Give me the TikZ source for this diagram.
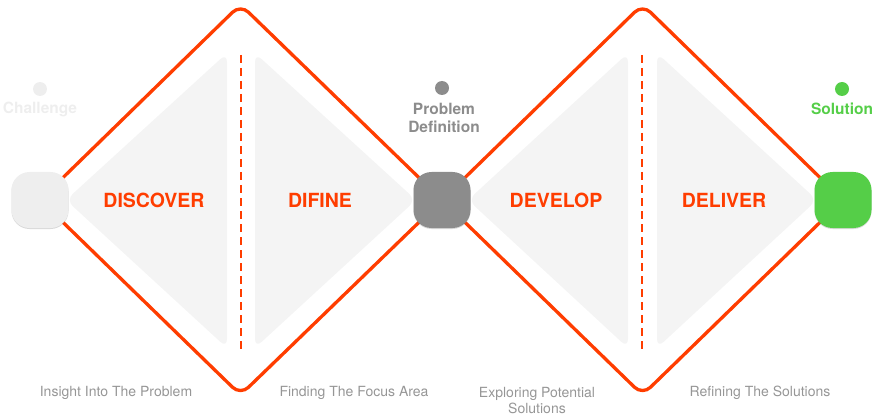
\documentclass[tikz,border=0pt]{standalone}
\usepackage{fontspec}
\setmainfont{TeX Gyre Heros}
\usetikzlibrary{shadows}
\definecolor{dorange}{RGB}{255,61,0}
\definecolor{tri}{RGB}{244,244,244}
\definecolor{chal}{RGB}{238,238,238}
\definecolor{pdgray}{RGB}{140,140,140}
\definecolor{sgreen}{RGB}{85,206,72}
\definecolor{sub}{RGB}{150,150,150}
\begin{document}
\begin{tikzpicture}[x=1pt,y=-1pt,
  diamondline/.style={draw=dorange,line width=3.3pt,rounded corners=11pt},
  trishape/.style={fill=tri,rounded corners=9pt},
  sqbox/.style={minimum width=57pt,minimum height=56pt,rounded corners=18pt,inner sep=0pt,
     drop shadow={shadow xshift=0pt,shadow yshift=-1pt,opacity=0.25,fill=black!60}},
  dot/.style={circle,minimum size=14pt,inner sep=0pt},
  phase/.style={text=dorange,font=\bfseries\fontsize{19.5}{22}\selectfont},
  toplabel/.style={font=\bfseries\fontsize{15.5}{18}\selectfont,align=center},
  sublabel/.style={text=sub,font=\fontsize{14}{16}\selectfont,align=center},
  sep/.style={draw=dorange,line width=2pt,dash pattern=on 8pt off 5pt}]
\useasboundingbox (0,0) rectangle (881,417);
% coordinates of diamonds
\coordinate (t1) at (240.5,4.5);
\coordinate (b1) at (240.5,395);
\coordinate (t2) at (642.5,4.5);
\coordinate (b2) at (642.5,395);
\coordinate (l1) at (40,200);
\coordinate (m) at (442,200);
\coordinate (r2) at (843,200);
% triangles
\fill[trishape] (66,200) -- (227,53) -- (227,348) -- cycle;
\fill[trishape] (416,200) -- (255,53) -- (255,348) -- cycle;
\fill[trishape] (468,200) -- (628,53) -- (628,348) -- cycle;
\fill[trishape] (817,200) -- (657,53) -- (657,348) -- cycle;
% dashed separators
\coordinate (d1a) at (240.5,55);
\coordinate (d1b) at (240.5,352);
\coordinate (d2a) at (642,55);
\coordinate (d2b) at (642,352);
\draw[sep] (d1a) -- (d1b);
\draw[sep] (d2a) -- (d2b);
% diamonds
\draw[diamondline] (l1) -- (t1) -- (m) -- (b1) -- cycle;
\draw[diamondline] (m) -- (t2) -- (r2) -- (b2) -- cycle;
% squares
\node[sqbox,fill=chal] (ch) at (l1) {};
\node[sqbox,fill=pdgray] (pd) at (m) {};
\node[sqbox,fill=sgreen] (so) at (r2) {};
% dots and top labels
\node[dot,fill=chal] (chdot) at (40,89) {};
\node[toplabel,text=chal] (chl) at (40,109) {Challenge};
\node[dot,fill=pdgray] (pddot) at (442,88) {};
\node[toplabel,text=pdgray] (pdl) at (444,118) {Problem\\Definition};
\node[dot,fill=sgreen] (sodot) at (842,89) {};
\node[toplabel,text=sgreen] (sol) at (842,109) {Solution};
% phases
\node[phase] (disc) at (154,200) {DISCOVER};
\node[phase] (dif) at (320,200) {DIFINE};
\node[phase] (dev) at (556,200) {DEVELOP};
\node[phase] (del) at (724,200) {DELIVER};
% sub labels
\node[sublabel] (s1) at (116,393) {Insight Into The Problem};
\node[sublabel] (s2) at (354,393) {Finding The Focus Area};
\node[sublabel,align=center] (s3) at (537,401) {Exploring Potential\\Solutions};
\node[sublabel] (s4) at (760,393) {Refining The Solutions};
\end{tikzpicture}
\end{document}
